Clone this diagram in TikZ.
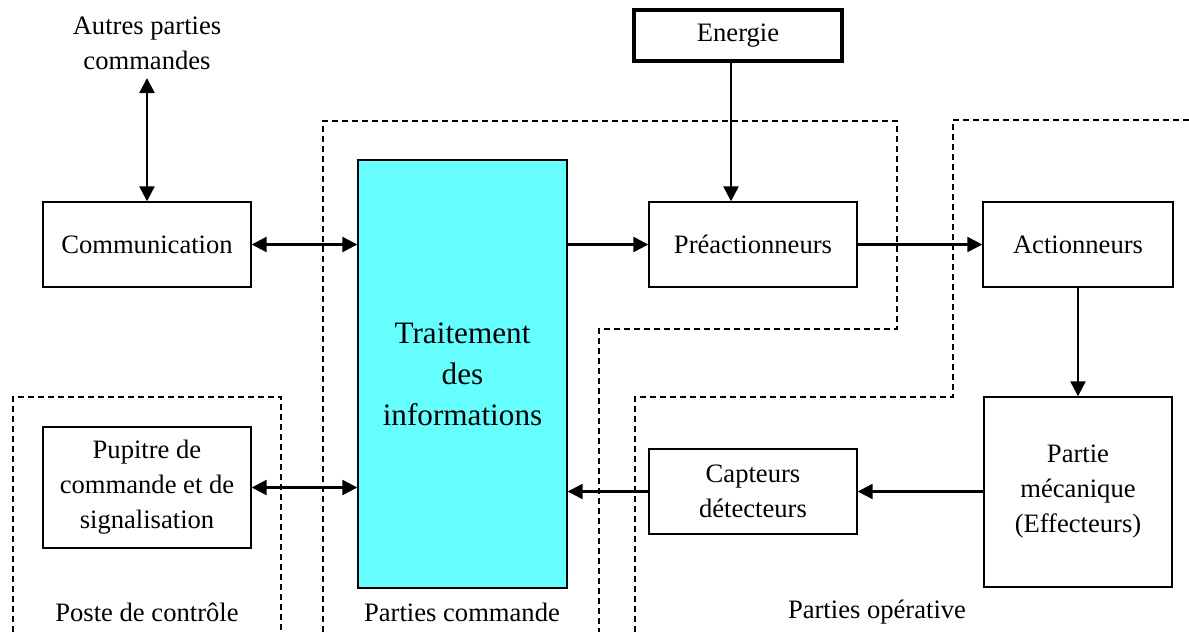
\documentclass[tikz,border=0pt]{standalone}
\usepackage{fontspec}
\setmainfont{Liberation Serif}
\usetikzlibrary{arrows.meta}
\begin{document}
\begin{tikzpicture}[x=0.5pt,y=-0.5pt,
  txt/.style={font=\fontsize{13.3}{17.5}\selectfont, align=center, inner sep=0pt},
  blk/.style={txt, draw, line width=0.7pt, minimum width=104pt, minimum height=42.5pt},
  zone/.style={dash pattern=on 3pt off 2pt, line width=0.6pt},
  tip/.style={Triangle[length=7.5pt,width=7.5pt]},
  flow/.style={line width=1.2pt, -{Triangle[length=7.5pt,width=7.5pt]}},
  bflow/.style={line width=1.2pt, {Triangle[length=7.5pt,width=7.5pt]}-{Triangle[length=7.5pt,width=7.5pt]}}]
  \useasboundingbox (0,0) rectangle (1189,632);

  % dashed zones
  \draw[zone] (13,632) -- (13,397) -- (281,397) -- (281,632);
  \draw[zone] (323,632) -- (323,121) -- (897,121) -- (897,329) -- (599,329) -- (599,632);
  \draw[zone] (1189,120) -- (953,120) -- (953,397) -- (635,397) -- (635,632);

  % blocks
  \node[blk] (comm) at (147,244.5) {Communication};
  \node[blk, minimum height=60.5pt] (pup) at (147,487.5) {Pupitre de\\commande et de\\signalisation};
  \node[txt, draw, line width=0.7pt, fill={rgb,255:red,102;green,255;blue,255},
        minimum width=104.5pt, minimum height=214pt,
        font=\fontsize{15.6}{20.5}\selectfont] (trait) at (462.5,374) {Traitement\\des\\informations};
  \node[txt, draw, line width=1.6pt, minimum width=104pt, minimum height=25.5pt] (ener) at (738,35.5) {Energie};
  \node[blk] (pre) at (753,244.5) {Préactionneurs};
  \node[blk, minimum width=95pt] (act) at (1078,244.5) {Actionneurs};
  \node[blk] (capt) at (753,491.5) {Capteurs\\détecteurs};
  \node[blk, minimum width=94pt, minimum height=95pt] (meca) at (1078,492) {Partie\\mécanique\\(Effecteurs)};

  % free labels
  \node[txt] (autres) at (147,43) {Autres parties\\commandes};
  \coordinate (autresend) at (147,78);
  \node[txt] (lposte) at (147,612) {Poste de contrôle};
  \node[txt] (lcmd) at (462,612) {Parties commande};
  \node[txt] (lop) at (877,612) {Parties opérative};

  % connectors
  \draw[bflow] (autresend) -- (comm.north);
  \draw[bflow] (comm.east) -- (comm.east -| trait.west);
  \draw[bflow] (pup.east) -- (pup.east -| trait.west);
  \draw[flow] (pre.west -| trait.east) -- (pre.west);
  \draw[flow] ([xshift=-3.5pt]ener.south) -- ([xshift=-3.5pt]ener.south |- pre.north);
  \draw[flow] (pre.east) -- (act.west);
  \draw[flow] (act.south) -- (meca.north);
  \draw[flow] (meca.west |- capt.east) -- (capt.east);
  \draw[flow] (capt.west) -- (capt.west -| trait.east);
\end{tikzpicture}
\end{document}
